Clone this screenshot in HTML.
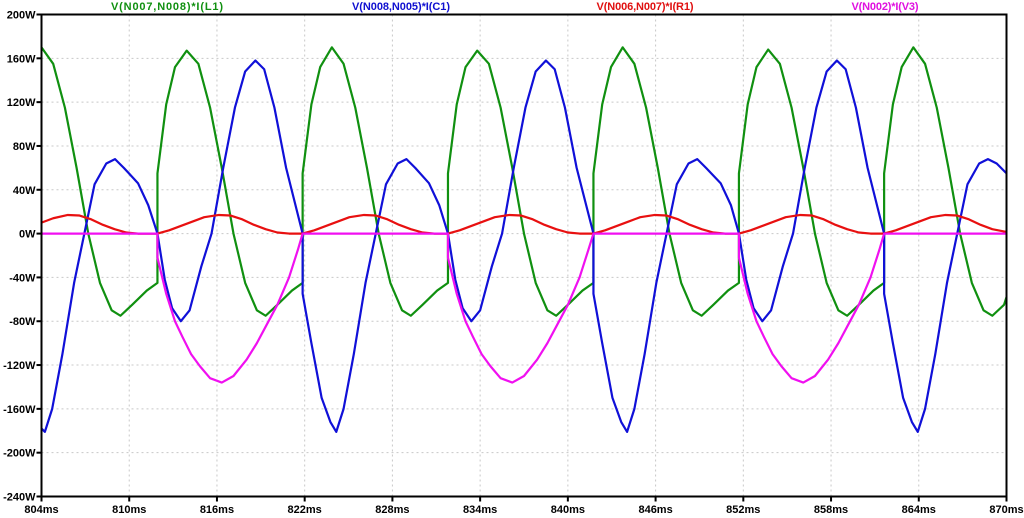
<!DOCTYPE html>
<html><head><meta charset="utf-8"><style>
html,body{margin:0;padding:0;background:#fff;}
svg{display:block;font-family:"Liberation Sans",Arial,sans-serif;font-weight:bold;}
</style></head><body>
<svg id="chart" width="1024" height="518" viewBox="0 0 1024 518" xmlns="http://www.w3.org/2000/svg">
<rect x="0" y="0" width="1024" height="518" fill="#fff"/>
<g id="grid"></g>
<g id="traces"></g>
<rect x="41.5" y="14.5" width="965" height="482" fill="none" stroke="#000" stroke-width="2"/>
<g id="axes"></g>
<g font-size="11">
<text x="167" y="10" text-anchor="middle" fill="#109010" textLength="112">V(N007,N008)*I(L1)</text>
<text x="401" y="10" text-anchor="middle" fill="#1010d0" textLength="98">V(N008,N005)*I(C1)</text>
<text x="645" y="10" text-anchor="middle" fill="#e01010" textLength="97">V(N006,N007)*I(R1)</text>
<text x="885" y="10" text-anchor="middle" fill="#e010e0" textLength="67">V(N002)*I(V3)</text>
</g>
</svg>
<script>
const yTicks = [200,160,120,80,40,0,-40,-80,-120,-160,-200,-240];
const xTicks = [804,810,816,822,828,834,840,846,852,858,864,870];

const greenT = [804.0,804.8,805.6,806.4,807.2,808.0,808.8,809.4,810.2,811.2,
811.93,811.93,812.53,813.13,813.93,814.73,815.53,816.33,817.13,817.93,818.73,819.33,820.13,821.13,
821.86,821.86,822.46,823.06,823.86,824.66,825.46,826.26,827.06,827.86,828.66,829.26,830.06,831.06,
831.8,831.8,832.4,833.0,833.8,834.6,835.4,836.2,837.0,837.8,838.6,839.2,840.0,841.0,
841.75,841.75,842.35,842.95,843.75,844.55,845.35,846.15,846.95,847.75,848.55,849.15,849.95,850.95,
851.7,851.7,852.3,852.9,853.7,854.5,855.3,856.1,856.9,857.7,858.5,859.1,859.9,860.9,
861.63,861.63,862.23,862.83,863.63,864.43,865.23,866.03,866.83,867.63,868.43,869.03,869.83,870];
const greenV = [170,155,115,60,0,-45,-70,-75,-65,-52,
-45,55,118,152,167,155,115,60,0,-45,-70,-75,-65,-52,
-45,55,118,152,170,155,115,60,0,-45,-70,-75,-65,-52,
-45,55,118,152,167,155,115,60,0,-45,-70,-75,-65,-52,
-45,55,118,152,170,155,115,60,0,-45,-70,-75,-65,-52,
-45,55,118,152,168,155,115,60,0,-45,-70,-75,-65,-52,
-45,55,118,152,170,155,115,60,0,-45,-70,-75,-65,-58];

const blueT = [804.0,804.23,804.73,805.43,806.23,806.93,807.63,808.43,809.03,809.63,810.6,811.3,811.93,
812.43,812.93,813.53,814.13,814.93,815.63,816.43,817.23,817.93,818.63,819.23,819.93,820.73,821.86,
821.86,822.46,823.16,823.76,824.16,824.66,825.36,826.16,826.86,827.56,828.36,828.96,829.56,830.5,831.2,831.8,
832.3,832.8,833.4,834.0,834.8,835.5,836.3,837.1,837.8,838.5,839.1,839.8,840.6,841.75,
841.75,842.35,843.05,843.65,844.05,844.55,845.25,846.05,846.75,847.45,848.25,848.85,849.45,850.45,851.15,851.7,
852.2,852.7,853.3,853.9,854.7,855.4,856.2,857.0,857.7,858.4,859.0,859.7,860.5,861.63,
861.63,862.23,862.93,863.53,863.93,864.43,865.13,865.93,866.63,867.33,868.13,868.73,869.33,870];
const blueV = [-178,-181,-160,-110,-45,0,45,64,68,60,46,26,0,
-42,-68,-80,-70,-30,0,60,115,148,158,150,115,60,0,
-55,-100,-150,-172,-181,-160,-110,-45,0,45,64,68,60,46,26,0,
-42,-68,-80,-70,-30,0,60,115,148,158,150,115,60,0,
-55,-100,-150,-172,-181,-160,-110,-45,0,45,64,68,60,46,26,0,
-42,-68,-80,-70,-30,0,60,115,148,158,150,115,60,0,
-55,-100,-150,-172,-181,-160,-110,-45,0,45,64,68,64,55];

const redT = [804,804.8,805.8,806.6,807.4,808.2,809.0,809.8,810.6,811.93,
812.73,813.53,814.33,815.13,816.13,816.93,817.73,818.53,819.33,820.13,820.93,821.86,
822.66,823.46,824.26,825.06,826.06,826.86,827.66,828.46,829.26,830.06,830.86,831.8,
832.6,833.4,834.2,835.0,836.0,836.8,837.6,838.4,839.2,840.0,840.8,841.75,
842.55,843.35,844.15,844.95,845.95,846.75,847.55,848.35,849.15,849.95,850.75,851.7,
852.5,853.3,854.1,854.9,855.9,856.7,857.5,858.3,859.1,859.9,860.7,861.63,
862.43,863.23,864.03,864.83,865.83,866.63,867.43,868.23,869.03,870];
const redV = [10,14,17,16.5,13,8,4,1,0,0,
3,7,11,15,17,16.5,13,8,4,1,0,0,
3,7,11,15,17,16.5,13,8,4,1,0,0,
3,7,11,15,17,16.5,13,8,4,1,0,0,
3,7,11,15,17,16.5,13,8,4,1,0,0,
3,7,11,15,17,16.5,13,8,4,1,0,0,
3,7,11,15,17,16.5,13,8,4,1.5];

const pinkT = [804,811.93,811.93,812.53,813.13,813.63,814.23,814.83,815.53,816.33,817.13,818.03,818.73,819.33,820.13,820.93,821.53,821.86,
831.8,831.8,832.4,833.0,833.5,834.1,834.7,835.4,836.2,837.0,837.9,838.6,839.2,840.0,840.8,841.4,841.75,
851.7,851.7,852.3,852.9,853.4,854.0,854.6,855.3,856.1,856.9,857.8,858.5,859.1,859.9,860.7,861.3,861.63,870];
const pinkV = [0,0,-22,-55,-80,-94,-110,-121,-132,-136,-130,-115,-100,-85,-65,-40,-15,0,
0,-22,-55,-80,-94,-110,-121,-132,-136,-130,-115,-100,-85,-65,-40,-15,0,
0,-22,-55,-80,-94,-110,-121,-132,-136,-130,-115,-100,-85,-65,-40,-15,0,0];

const NS = "http://www.w3.org/2000/svg";
const X0 = 41.5, X1 = 1006.5, Y0 = 14.5, Y1 = 496.5;
const xMin = 804, xMax = 870, yMin = -240, yMax = 200;
function sx(t){ return X0 + (t - xMin) / (xMax - xMin) * (X1 - X0); }
function sy(v){ return Y1 - (v - yMin) / (yMax - yMin) * (Y1 - Y0); }
function mk(tag, attrs, parent){
  const e = document.createElementNS(NS, tag);
  for (const k in attrs) e.setAttribute(k, attrs[k]);
  parent.appendChild(e);
  return e;
}
const grid = document.getElementById('grid');
const axes = document.getElementById('axes');
yTicks.forEach(v => {
  const y = sy(v);
  if (v !== yMax && v !== yMin) {
    const g = mk('line', {x1:X0, x2:X1, y1:y, y2:y, stroke:'#c8c8c8', 'stroke-width':1, 'stroke-dasharray':'2,3'}, grid);
    
    
  }
  const tk = mk('line', {x1:X0-5, x2:X0, y1:y, y2:y, stroke:'#000', 'stroke-width':2}, axes);
  
  
  const lb = mk('text', {x:X0-6, y:y+4, 'text-anchor':'end', 'font-size':11, fill:'#000'}, axes);
  
  
  lb.textContent = v + 'W';
});
xTicks.forEach(t => {
  const x = sx(t);
  if (t !== xMin && t !== xMax) {
    const g = mk('line', {x1:x, x2:x, y1:Y0, y2:Y1, stroke:'#c8c8c8', 'stroke-width':1, 'stroke-dasharray':'2,3'}, grid);
    
    
  }
  const tk = mk('line', {x1:x, x2:x, y1:Y1, y2:Y1+5, stroke:'#000', 'stroke-width':2}, axes);
  
  
  const lb = mk('text', {x:x, y:513, 'text-anchor':'middle', 'font-size':11, fill:'#000'}, axes);
  
  
  lb.textContent = t + 'ms';
});
const traces = document.getElementById('traces');
function trace(ts, vs, color, name){
  let d = '';
  for (let i = 0; i < ts.length; i++) d += (i ? 'L' : 'M') + sx(ts[i]).toFixed(2) + ',' + sy(vs[i]).toFixed(2);
  const p = mk('path', {d:d, fill:'none', stroke:color, 'stroke-width':2.2, 'stroke-linejoin':'round'}, traces);
  
  
}
trace(greenT, greenV, '#109010', 'inductor-power-line');
trace(blueT, blueV, '#1010d8', 'capacitor-power-line');
trace(redT, redV, '#e81010', 'resistor-power-line');
trace(pinkT, pinkV, '#f010f0', 'source-power-line');
</script>
</body></html>
